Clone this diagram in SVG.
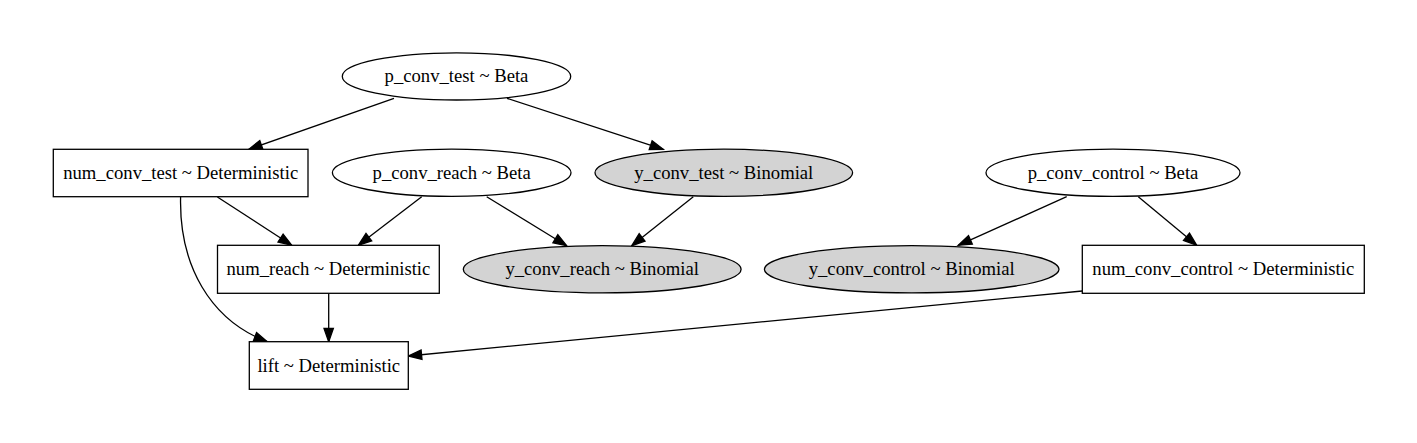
<svg xmlns="http://www.w3.org/2000/svg" width="1417" height="443" viewBox="0 0 1417 443">
<style>
.n{fill:#fff;stroke:#000;stroke-width:1.3}
.obs{fill:#d3d3d3;stroke:#000;stroke-width:1.3}
text{font-family:'Liberation Serif','Times New Roman',Times,serif;font-size:18.67px;text-anchor:middle;fill:#000}
.e{fill:none;stroke:#000;stroke-width:1.3;marker-end:url(#arr)}
</style>
<defs>
<marker id="arr" markerUnits="userSpaceOnUse" markerWidth="16" markerHeight="12" refX="13.3" refY="4.7" orient="auto" overflow="visible">
<path d="M0,0 L13.3,4.7 L0,9.4 z" fill="#000" stroke="#000" stroke-width="1.3"/>
</marker>
</defs>
<rect width="1417" height="443" fill="#fff"/>
<g id="edges">
<path class="e" d="M394,98.3 L248.8,149.3"/>
<path class="e" d="M507,98.3 L663.3,149.3"/>
<path class="e" d="M217.4,197 L291.7,245.3"/>
<path class="e" d="M421.7,196.7 L358.3,245.3"/>
<path class="e" d="M486.7,196.7 L566.7,245.7"/>
<path class="e" d="M693.3,196.7 L631.7,245.7"/>
<path class="e" d="M1066.7,196.7 L958.3,245.3"/>
<path class="e" d="M1138.3,196.7 L1196.7,245.3"/>
<path class="e" d="M328.7,293.3 L328.7,341.7"/>
<path class="e" d="M180.6,197 C179,265 210,320 267.3,341.7"/>
<path class="e" d="M1082.3,291 L408.3,356"/>
</g>
<g id="p_conv_test"><ellipse class="n" cx="456.5" cy="76.4" rx="114.2" ry="23.6"/><text x="456.5" y="82.4" font-family="Liberation Serif, serif">p_conv_test ~ Beta</text></g>
<g id="num_conv_test"><rect class="n" x="53.3" y="149.3" width="254.7" height="47.4"/><text x="180.7" y="179" font-family="Liberation Serif, serif">num_conv_test ~ Deterministic</text></g>
<g id="p_conv_reach"><ellipse class="n" cx="451.7" cy="172.8" rx="119.3" ry="23.6"/><text x="451.7" y="178.8" font-family="Liberation Serif, serif">p_conv_reach ~ Beta</text></g>
<g id="y_conv_test"><ellipse class="obs" cx="723.8" cy="172.8" rx="128.8" ry="23.6"/><text x="723.8" y="178.8" font-family="Liberation Serif, serif">y_conv_test ~ Binomial</text></g>
<g id="p_conv_control"><ellipse class="n" cx="1113" cy="172.8" rx="127" ry="23.6"/><text x="1113" y="178.8" font-family="Liberation Serif, serif">p_conv_control ~ Beta</text></g>
<g id="num_reach"><rect class="n" x="217.5" y="245.3" width="221.8" height="48"/><text x="328.4" y="275.3" font-family="Liberation Serif, serif">num_reach ~ Deterministic</text></g>
<g id="y_conv_reach"><ellipse class="obs" cx="602.2" cy="269.3" rx="138.9" ry="23.6"/><text x="602.2" y="275.3" font-family="Liberation Serif, serif">y_conv_reach ~ Binomial</text></g>
<g id="y_conv_control"><ellipse class="obs" cx="911.7" cy="269.3" rx="147.3" ry="23.6"/><text x="911.7" y="275.3" font-family="Liberation Serif, serif">y_conv_control ~ Binomial</text></g>
<g id="num_conv_control"><rect class="n" x="1082.3" y="245.3" width="282" height="48"/><text x="1223.3" y="275.3" font-family="Liberation Serif, serif">num_conv_control ~ Deterministic</text></g>
<g id="lift"><rect class="n" x="249.3" y="341.7" width="159" height="47.6"/><text x="328.8" y="371.5" font-family="Liberation Serif, serif">lift ~ Deterministic</text></g>
</svg>
